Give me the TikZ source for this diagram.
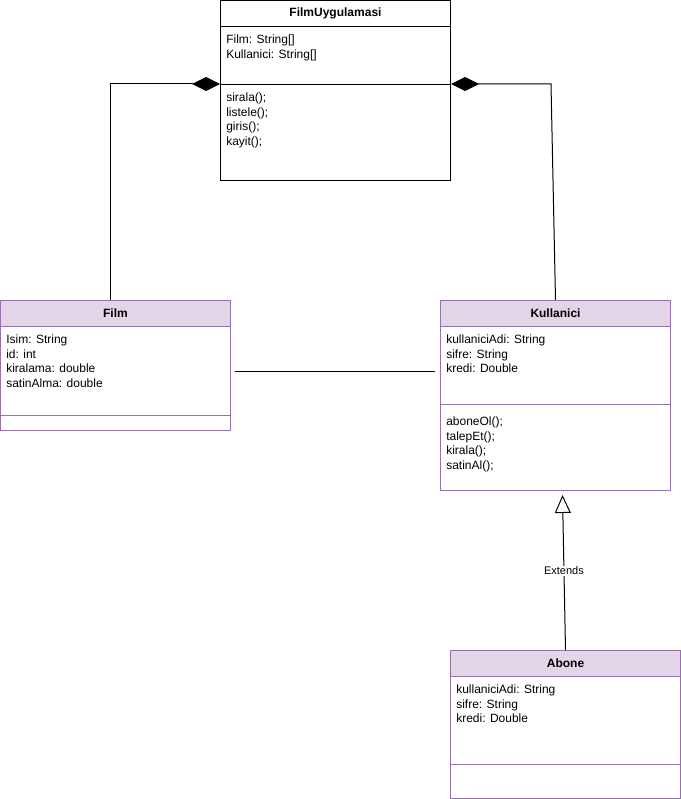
\documentclass[tikz,border=0pt]{standalone}
\usepackage{fontspec}
\setmainfont{Liberation Sans}
\usetikzlibrary{arrows.meta,calc}
\definecolor{umlfill}{HTML}{E1D5E7}
\definecolor{umlline}{HTML}{9673A6}
\tikzset{
  part/.style={draw, line width=0.75pt, anchor=north west, inner sep=0pt,
    minimum width=#1},
  head/.style={font=\fontsize{9}{10.7}\selectfont\bfseries},
  attrs/.style={anchor=north west, inner sep=0pt, align=left,
    font=\fontsize{9}{10.85}\selectfont},
  purplebox/.style={draw=umlline, fill=umlfill},
  conn/.style={line width=0.75pt},
  composition/.style={conn, -{Diamond[length=21pt,width=10.5pt,fill=black]}},
  extends/.style={conn, -{Triangle[open,length=13.5pt,width=12pt,fill=white]}},
  lbl/.style={fill=white, inner sep=1pt, font=\fontsize{8.25}{10}\selectfont}
}
\begin{document}
\begin{tikzpicture}[x=0.75pt,y=-0.75pt]
\useasboundingbox (0,0) rectangle (681,799);

% FilmUygulamasi
\node[part=172.5pt, minimum height=19.5pt, head] (appHead) at (220,0) {FilmUygulamasi};
\node[part=172.5pt, minimum height=43.5pt] (appAttr) at (220,26) {};
\node[part=172.5pt, minimum height=72pt] (appOps) at (220,84) {};
\node[attrs] (appAttrTxt) at (226,35) {Film: String[]\\Kullanici: String[]};
\node[attrs] (appOpsTxt) at (226,93) {sirala();\\listele();\\giris();\\kayit();};

% Film
\node[part=172.5pt, minimum height=19.5pt, head, purplebox] (film) at (0,300) {Film};
\node[part=172.5pt, minimum height=66.75pt, draw=umlline] (filmAttr) at (0,326) {};
\node[part=172.5pt, minimum height=11.25pt, draw=umlline] (filmOps) at (0,415) {};
\node[attrs] (filmAttrTxt) at (6,335) {Isim: String\\id: int\\kiralama: double\\satinAlma: double};

% Kullanici
\node[part=172.5pt, minimum height=19.5pt, head, purplebox] (kul) at (440,300) {Kullanici};
\node[part=172.5pt, minimum height=58.5pt, draw=umlline] (kulAttr) at (440,326) {};
\node[part=172.5pt, minimum height=64.5pt, draw=umlline] (kulOps) at (440,404) {};
\node[attrs] (kulAttrTxt) at (446,335) {kullaniciAdi: String\\sifre: String\\kredi: Double};
\node[attrs] (kulOpsTxt) at (446,417) {aboneOl();\\talepEt();\\kirala();\\satinAl();};

% Abone
\node[part=172.5pt, minimum height=19.5pt, head, purplebox] (abone) at (450,650) {Abone};
\node[part=172.5pt, minimum height=66pt, draw=umlline] (aboneAttr) at (450,676) {};
\node[part=172.5pt, minimum height=25.5pt, draw=umlline] (aboneOps) at (450,764) {};
\node[attrs] (aboneAttrTxt) at (456,685) {kullaniciAdi: String\\sifre: String\\kredi: Double};

% compositions into FilmUygulamasi
\draw[composition] ([xshift=-3.75pt]film.north) |- (appOps.north west);
\coordinate (kulBend) at ($(appOps.north east)+(100,0)$);
\draw[composition] (kul.north) -- (kulBend) -- (appOps.north east);

% association Film -- Kullanici
\coordinate (assocA) at (235,371);
\coordinate (assocB) at (435,371);
\draw[conn] (assocA) -- (assocB);

% generalisation Abone -> Kullanici
\coordinate (extTip) at ($(kulOps.south)+(7,4)$);
\draw[extends] (abone.north) -- node[lbl, pos=0.51] (extLbl) {Extends} (extTip);
\end{tikzpicture}
\end{document}
